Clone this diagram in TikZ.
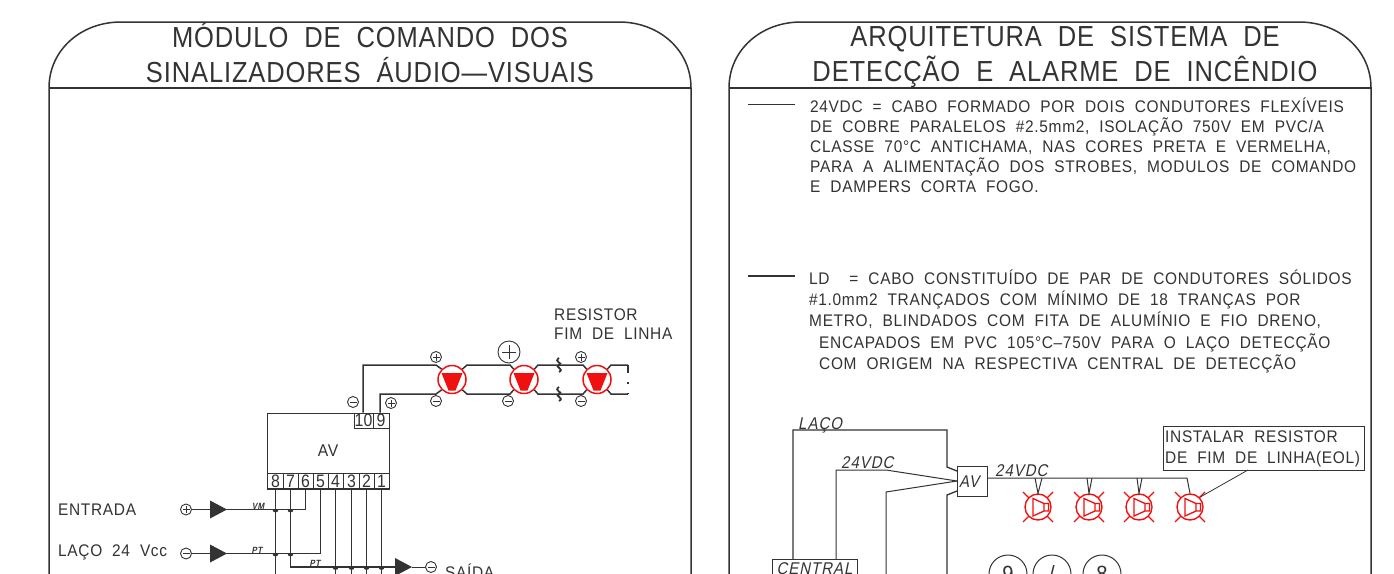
\documentclass[tikz,border=0pt]{standalone}
\usepackage{fontspec}
\setmainfont{Liberation Sans}[FakeStretch=0.92,WordSpace=2,LetterSpace=4]
\newfontfamily\ttlfont{Liberation Sans}[FakeStretch=0.88,WordSpace=2,LetterSpace=3]
\newfontfamily\cellfont{Liberation Sans}[FakeStretch=0.88]
\newfontfamily\slfont{Liberation Sans}[FakeStretch=0.88,FakeSlant=0.2,WordSpace=1.5,LetterSpace=6]
\definecolor{ink}{HTML}{333333}
\definecolor{strobered}{HTML}{F01010}
\tikzset{
  txt/.style={anchor=base west,inner sep=0pt,text=ink,font=\fontsize{16.8}{16.8}\selectfont},
  titletxt/.style={anchor=base,inner sep=0pt,text=ink,font=\ttlfont\fontsize{29}{29}\selectfont},
  slant/.style={anchor=base west,inner sep=0pt,text=ink,font=\slfont\fontsize{17}{17}\selectfont},
  tiny/.style={anchor=center,inner sep=0pt,text=ink,font=\slfont\bfseries\fontsize{9}{9}\selectfont},
  cell/.style={draw=ink,line width=0.8pt,minimum height=15pt,inner sep=0pt,text=ink,font=\cellfont\fontsize{18}{18}\selectfont},
  pol/.style={draw=ink,circle,line width=0.9pt,minimum size=11pt,inner sep=0pt},
  wire/.style={ink,line width=1.5pt},
  thinw/.style={ink,line width=0.8pt},
  strobe/.style={draw=strobered,circle,line width=1.5pt,minimum size=28pt,inner sep=0pt},
  sounder/.style={draw=strobered,circle,line width=1.4pt,minimum size=26pt,inner sep=0pt},
}
% plus and minus marks inside a polarity circle
\newcommand{\plusmark}[2]{\draw[ink,line width=0.8pt] (#1.center)+(-#2,0) -- +(#2,0) (#1.center)+(0,-#2) -- +(0,#2);}
\newcommand{\minusmark}[2]{\draw[ink,line width=0.8pt] (#1.center)+(-#2,0) -- +(#2,0);}
\begin{document}
\begin{tikzpicture}[x=1pt,y=-1pt]
  \useasboundingbox (0,0) rectangle (1394,573);
  \clip (0,0) rectangle (1394,573);
  \fill[white] (0,0) rectangle (1394,573);

  % Panels
  \foreach \xa/\xb in {49/691,729/1371}{
    \draw[ink,line width=1.5pt] (\xa,600) -- (\xa,88)
      .. controls (\xa,50) and (\xa+32,22) .. (\xa+72,22) -- (\xb-72,22)
      .. controls (\xb-32,22) and (\xb,50) .. (\xb,88) -- (\xb,600);
    \draw[ink,line width=1.2pt] (\xa,88) -- (\xb,88);
  }

  % Titles
  \node[titletxt] (tl1) at (370,47) {MÓDULO DE COMANDO DOS};
  \node[titletxt] (tl2) at (370,82) {SINALIZADORES ÁUDIO\textemdash VISUAIS};
  \node[titletxt] (tr1) at (1065,46) {ARQUITETURA DE SISTEMA DE};
  \node[titletxt] (tr2) at (1065,81) {DETECÇÃO E ALARME DE INCÊNDIO};

  % Cable notes
  \coordinate (n1a) at (748,104);
  \coordinate (n1b) at (795,104);
  \coordinate (n2a) at (748,276);
  \coordinate (n2b) at (795,276);
  \draw[thinw] (n1a) -- (n1b);
  \draw[ink,line width=1.3pt] (n2a) -- (n2b);
  \node[txt] (a1) at (810,112) {24VDC = CABO FORMADO POR DOIS CONDUTORES FLEXÍVEIS};
  \node[txt] (a2) at (810,132) {DE COBRE PARALELOS \#2.5mm2, ISOLAÇÃO 750V EM PVC/A};
  \node[txt] (a3) at (810,152) {CLASSE 70°C ANTICHAMA, NAS CORES PRETA E VERMELHA,};
  \node[txt] (a4) at (810,172) {PARA A ALIMENTAÇÃO DOS STROBES, MODULOS DE COMANDO};
  \node[txt] (a5) at (810,192) {E DAMPERS CORTA FOGO.};
  \node[txt] (b1) at (809,284) {LD\ \ = CABO CONSTITUÍDO DE PAR DE CONDUTORES SÓLIDOS};
  \node[txt] (b2) at (809,305) {\#1.0mm2 TRANÇADOS COM MÍNIMO DE 18 TRANÇAS POR};
  \node[txt] (b3) at (809,326) {METRO, BLINDADOS COM FITA DE ALUMÍNIO E FIO DRENO,};
  \node[txt] (b4) at (819,348) {ENCAPADOS EM PVC 105°C\textendash 750V PARA O LAÇO DETECÇÃO};
  \node[txt] (b5) at (819,369) {COM ORIGEM NA RESPECTIVA CENTRAL DE DETECÇÃO};

  % Left module
  \node[draw=ink,line width=1pt,minimum width=122pt,minimum height=76pt,inner sep=0pt,
        text=ink,font=\fontsize{17}{17}\selectfont] (av) at (328,451) {AV};
  \foreach \n/\x/\w in {8/275.5/16,7/290.5/15,6/305.5/15,5/320.5/15,4/335.5/15,3/351.5/16,2/366.5/15,1/381.5/15}
    \node[cell,minimum width=\w pt] (t\n) at (\x,481) {\n};
  \node[cell,minimum width=19pt] (t10) at (363.5,420.5) {10};
  \node[cell,minimum width=16pt] (t9) at (381,420.5) {9};

  % Strobes
  \foreach \i/\x in {1/452,2/524,3/597}{
    \node[strobe] (st\i) at (\x,379.5) {};
    \fill[strobered] (\x-10.5,373) -- (\x+10.5,373) -- (\x+3.5,390.5) -- (\x-3.5,390.5) -- cycle;
  }
  \coordinate (c10) at (363,365);
  \coordinate (c9) at (380,394);
  \coordinate (e1) at (628,365);
  \coordinate (e2) at (628,394);
  \draw[wire] (t10.north -| c10) -- (c10) -- (436,365) -- (st1.north west);
  \draw[wire] (t9.north -| c9) -- (c9) -- (436,394) -- (st1.south west);
  \draw[wire] (st1.north east) -- (467,365) -- (510,365) -- (st2.north west);
  \draw[wire] (st1.south east) -- (467,394) -- (510,394) -- (st2.south west);
  \draw[wire] (st2.north east) -- (538,365) -- (583,365) -- (st3.north west);
  \draw[wire] (st2.south east) -- (538,394) -- (583,394) -- (st3.south west);
  \draw[wire] (st3.north east) -- (611,365) -- (e1);
  \draw[wire] (st3.south east) -- (611,394) -- (e2);
  \draw[ink,line width=1.5pt,dash pattern=on 8pt off 9pt on 2pt off 9pt on 8pt] (e1) -- (e2);
  % cable breaks
  \foreach \y in {365,394}
    \draw[ink,line width=1.8pt] (559,\y-7) .. controls (553,\y-3) and (564,\y-2) .. (559,\y)
      .. controls (554,\y+2) and (565,\y+4) .. (559,\y+7);

  % Polarity marks
  \node[pol] (p1) at (436,357) {};  \plusmark{p1}{3.5}
  \node[pol] (p2) at (581,357) {};  \plusmark{p2}{3.5}
  \node[pol,minimum size=22pt] (p3) at (509,352) {};  \plusmark{p3}{7}
  \node[pol] (p4) at (391,403) {};  \plusmark{p4}{3.5}
  \node[pol] (p5) at (186,509.5) {};  \plusmark{p5}{3.5}
  \node[pol] (m1) at (436,401) {};  \minusmark{m1}{3.5}
  \node[pol] (m2) at (508,401) {};  \minusmark{m2}{3.5}
  \node[pol] (m3) at (581,401) {};  \minusmark{m3}{3.5}
  \node[pol] (m4) at (353,402) {};  \minusmark{m4}{3.5}
  \node[pol] (m5) at (186,553.5) {};  \minusmark{m5}{3.5}
  \node[pol] (m6) at (431,567) {};  \minusmark{m6}{3.5}

  % Labels left
  \node[txt] (r1) at (554,320) {RESISTOR};
  \node[txt] (r2) at (554,339) {FIM DE LINHA};
  \node[txt] (lin) at (58,515) {ENTRADA};
  \node[txt] (lla) at (58,556) {LAÇO 24 Vcc};
  \node[txt] (lou) at (445,578) {SAÍDA};
  \node[tiny] (vm) at (258,506) {VM};
  \node[tiny] (pt1) at (257,550) {PT};
  \node[tiny] (pt2) at (315,563) {PT};

  % Feeds
  \foreach \nm/\ya/\xc in {fa/509.5/210,fb/553.5/210,fc/567/395}{
    \coordinate (\nm) at (\xc,\ya);
    \fill[ink] (\xc,\ya-9) -- (\xc+17,\ya) -- (\xc,\ya+9) -- cycle;
  }
  \draw[thinw] (p5) -- (fa);
  \draw[thinw] (m5) -- (fb);
  \draw[thinw] (fc) ++(17,0) -- (m6);
  \draw[wire] (fa) -- (t6.south |- fa) -- (t6.south);
  \draw[wire] (fb) -- (t5.south |- fb) -- (t5.south);
  \draw[wire] (t7.south) -- (t7.south |- fc) -- (fc);
  \foreach \n in {8,4,3,2,1}
    \draw[ink,line width=1.3pt] (t\n.south) -- (t\n.south |- 0,600);
  % hops
  \foreach \x/\y in {275.5/509.5,290.5/509.5,275.5/553.5,290.5/553.5,335.5/567,351.5/567,366.5/567,381.5/567}
    \fill[ink] (\x-3,\y) arc[start angle=180,end angle=0,radius=3];

  % Right diagram
  \node[draw=ink,line width=1pt,minimum size=30pt,inner sep=0pt,anchor=center] (rav) at (972,481) {};
  \node[slant] (ravt) at (959,487) {AV};
  \node[draw=ink,line width=1pt,minimum width=85pt,minimum height=30pt,anchor=north west,inner sep=0pt] (cen) at (772,559) {};
  \node[slant,anchor=base] (cent) at (814.5,574) {CENTRAL};
  \node[slant] (llaco) at (798,429) {LAÇO};
  \node[slant] (lv1) at (841,468) {24VDC};
  \node[slant] (lv2) at (995,476) {24VDC};
  \coordinate (j1) at (793,430);
  \coordinate (j2) at (947,430);
  \coordinate (j3) at (836,470);
  \coordinate (j4) at (886,470);
  \coordinate (j5) at (886,492);
  \draw[ink,line width=1.3pt] (cen.north -| j1) -- (j1) -- (j2) -- (947,467) -- (957,471);
  \draw[ink,line width=1.3pt] (947,600) -- (947,495) -- (957,491);
  \draw[ink,line width=1pt] (cen.north -| j3) -- (j3) -- (j4) -- (957,481);
  \draw[ink,line width=1pt] (886,600) -- (j5) -- (957,481);

  % Sounders
  \foreach \i/\x in {1/1038,2/1089,3/1139,4/1190}{
    \node[sounder] (so\i) at (\x,507) {};
    \draw[strobered,line width=1.3pt] (\x-5,498.5) -- (\x+6,503.5) -- (\x+6,511) -- (\x-5,516) -- cycle
      (\x+6,503.5) -- (\x+10.5,503.5) -- (\x+10.5,511) -- (\x+6,511);
    \draw[strobered,line width=1.3pt]
      (\x-15,-15+507) -- (\x-9,-9+507) (\x+15,-15+507) -- (\x+9,-9+507)
      (\x-15,15+507) -- (\x-9,9+507) (\x+15,15+507) -- (\x+9,9+507);
  }
  \coordinate (busend) at (1187,478);
  \draw[ink,line width=1pt] (rav.east |- busend) -- (busend) -- (so4.north);
  \foreach \i/\a/\b in {1/1035/1042,2/1087/1092,3/1137/1142}
    \draw[ink,line width=1pt] (\a,478) -- (so\i.north) -- (\b,478);

  % Resistor note
  \node[draw=ink,line width=1pt,minimum width=201pt,minimum height=44pt,inner sep=0pt] (eol) at (1263.5,448) {};
  \node[txt] (eol1) at (1165,442) {INSTALAR RESISTOR};
  \node[txt] (eol2) at (1165,463) {DE FIM DE LINHA(EOL)};
  \coordinate (eolb) at (1248,470);
  \draw[thinw] (eolb) -- (so4.north east);

  % Bubbles
  \foreach \i/\x/\t in {1/1008/9,2/1052/\slash,3/1102/8}
    \node[draw=ink,circle,line width=1pt,minimum size=38pt,inner sep=0pt,text=ink,
          font=\fontsize{22}{22}\selectfont] (bb\i) at (\x,574) {\t};
\end{tikzpicture}
\end{document}
